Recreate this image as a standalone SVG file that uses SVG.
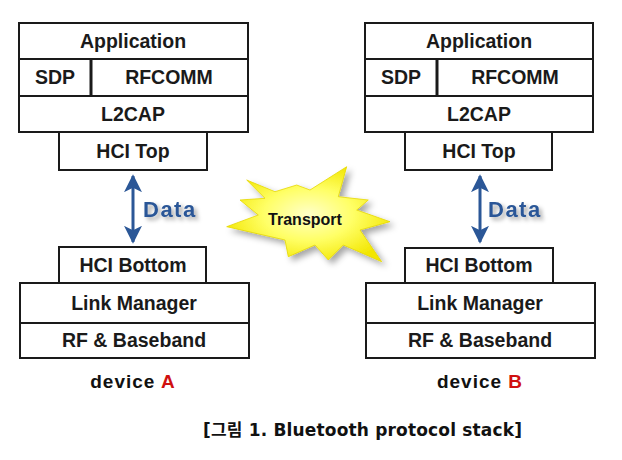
<svg xmlns="http://www.w3.org/2000/svg" width="622" height="460" viewBox="0 0 622 460">
<defs>
<style>
.box{fill:#fff;stroke:#1a1a1a;stroke-width:2}
.lbl{font-family:"Liberation Sans",Arial,sans-serif;font-weight:bold;font-size:19.5px;fill:#1a1a1a;text-anchor:middle}
.data{font-family:"Liberation Sans",Arial,sans-serif;font-weight:bold;font-size:22px;letter-spacing:1.5px;fill:#2b5797}
.dev{font-family:"Liberation Sans",Arial,sans-serif;font-weight:bold;font-size:19px;letter-spacing:1px;fill:#111;text-anchor:middle}
.arrow{stroke:#2b5797;stroke-width:3;fill:none}
</style>
<marker id="ah" viewBox="0 0 10 10" refX="9" refY="5" markerWidth="6" markerHeight="6" orient="auto-start-reverse" markerUnits="strokeWidth">
<path d="M0,0 L10,5 L0,10 L2.5,5 z" fill="#2b5797"/>
</marker>
<radialGradient id="burst" cx="50%" cy="50%" r="55%">
<stop offset="0" stop-color="#ffffc8"/>
<stop offset="0.5" stop-color="#ffff66"/>
<stop offset="1" stop-color="#f2e600"/>
</radialGradient>
<filter id="sh" x="-20%" y="-20%" width="150%" height="150%">
<feDropShadow dx="4" dy="4" stdDeviation="3" flood-color="#000" flood-opacity="0.35"/>
</filter>
<filter id="tsh" x="-20%" y="-30%" width="150%" height="170%">
<feDropShadow dx="3" dy="3" stdDeviation="2" flood-color="#000" flood-opacity="0.35"/>
</filter>
</defs>
<rect width="622" height="460" fill="#fff"/>

<g id="deviceA">
<g id="a-application"><rect class="box" x="19" y="23" width="229" height="36"/><text class="lbl" x="133" y="48">Application</text></g>
<g id="a-sdp"><rect class="box" x="19" y="59" width="72" height="37"/><text class="lbl" x="55" y="84">SDP</text></g>
<g id="a-rfcomm"><rect class="box" x="91" y="59" width="157" height="37"/><line x1="91" y1="59" x2="91" y2="96" stroke="#1a1a1a" stroke-width="3"/><text class="lbl" x="169" y="84">RFCOMM</text></g>
<g id="a-l2cap"><rect class="box" x="19" y="96" width="229" height="36"/><text class="lbl" x="133" y="121">L2CAP</text></g>
<g id="a-hcitop"><rect class="box" x="59" y="132" width="148" height="38"/><text class="lbl" x="133" y="158">HCI Top</text></g>
<g id="a-hcibottom"><rect class="box" x="59" y="247" width="147" height="36"/><text class="lbl" x="133" y="272">HCI Bottom</text></g>
<g id="a-linkmanager"><rect class="box" x="20" y="283" width="229" height="40"/><text class="lbl" x="134" y="310">Link Manager</text></g>
<g id="a-rf"><rect class="box" x="20" y="323" width="229" height="35"/><text class="lbl" x="134" y="347">RF &amp; Baseband</text></g>
<text class="dev" x="133" y="388">device <tspan fill="#d01010">A</tspan></text>
</g>

<g id="deviceB">
<g id="b-application"><rect class="box" x="365" y="23" width="228" height="36"/><text class="lbl" x="479" y="48">Application</text></g>
<g id="b-sdp"><rect class="box" x="365" y="59" width="72" height="37"/><text class="lbl" x="401" y="84">SDP</text></g>
<g id="b-rfcomm"><rect class="box" x="437" y="59" width="156" height="37"/><line x1="437" y1="59" x2="437" y2="96" stroke="#1a1a1a" stroke-width="3"/><text class="lbl" x="515" y="84">RFCOMM</text></g>
<g id="b-l2cap"><rect class="box" x="365" y="96" width="228" height="36"/><text class="lbl" x="479" y="121">L2CAP</text></g>
<g id="b-hcitop"><rect class="box" x="405" y="132" width="147" height="38"/><text class="lbl" x="479" y="158">HCI Top</text></g>
<g id="b-hcibottom"><rect class="box" x="405" y="248" width="148" height="35"/><text class="lbl" x="479" y="272">HCI Bottom</text></g>
<g id="b-linkmanager"><rect class="box" x="366" y="283" width="229" height="40"/><text class="lbl" x="480" y="310">Link Manager</text></g>
<g id="b-rf"><rect class="box" x="366" y="323" width="229" height="35"/><text class="lbl" x="480" y="347">RF &amp; Baseband</text></g>
<text class="dev" x="480" y="388">device <tspan fill="#d01010">B</tspan></text>
</g>

<g id="transport">
<polygon filter="url(#sh)" fill="url(#burst)" stroke="#e6d800" stroke-width="0.8" points="246.7,180 275,191.7 296.7,185 310,190 346.7,166.7 338.3,196.7 368.3,200 356.7,210 390,221.7 360,230 381.7,261.7 343.3,245 328.3,260 315,245 288.3,256.7 285,240 226.7,226.7 258.3,215 240,200 265,198.3"/>
<text x="305" y="225" style="font-family:'Liberation Sans',Arial,sans-serif;font-weight:bold;font-size:16px;fill:#111;text-anchor:middle">Transport</text>
</g>

<g id="connectors">
<line class="arrow" x1="133" y1="176" x2="133" y2="242" marker-start="url(#ah)" marker-end="url(#ah)"/>
<line class="arrow" x1="480" y1="176" x2="480" y2="242" marker-start="url(#ah)" marker-end="url(#ah)"/>
<text class="data" x="143" y="217" filter="url(#tsh)">Data</text>
<text class="data" x="488" y="217" filter="url(#tsh)">Data</text>
</g>

<text x="203" y="436" textLength="319" lengthAdjust="spacing" style="font-family:'DejaVu Sans','Noto Sans CJK KR',sans-serif;font-weight:bold;font-size:17px;fill:#111">[그림 1. Bluetooth protocol stack]</text>
</svg>
